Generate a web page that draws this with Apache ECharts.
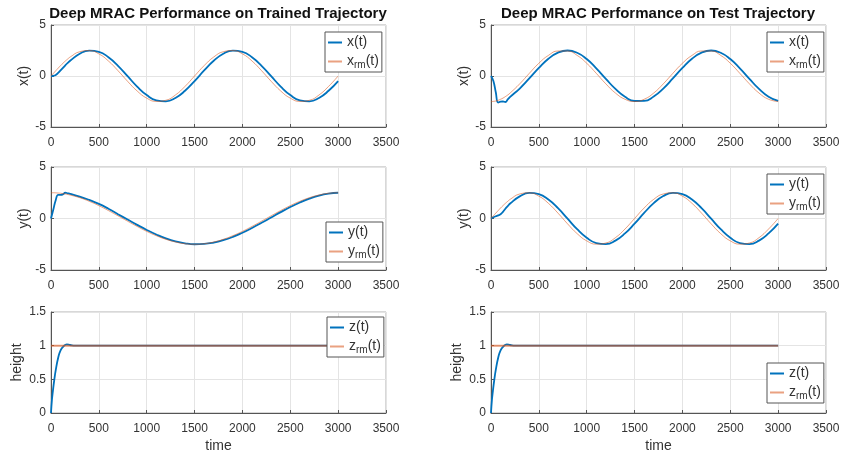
<!DOCTYPE html>
<html>
<head>
<meta charset="utf-8">
<script src="https://cdn.jsdelivr.net/npm/echarts@6/dist/echarts.min.js"></script>
<style>html,body{margin:0;padding:0;background:#fff}#c{width:844px;height:456px}</style>
</head>
<body>
<div id="c"></div>
<script>
// ---- data ----
const t = [0,25,50,75,100,125,150,175,200,300,400,500,600,700,800,900,1000,1100,1200,1300,1400,1500,1600,1700,1800,1900,2000,2100,2200,2300,2400,2500,2600,2700,2800,2900,3000];

const trainX   = [0,0.02,0.1,0.3,0.55,0.8,1.05,1.28,1.49,2.18,2.49,2.37,1.84,1.00,-0.02,-1.04,-1.87,-2.38,-2.48,-2.15,-1.45,-0.50,0.54,1.49,2.18,2.49,2.37,1.84,1.00,-0.02,-1.04,-1.87,-2.38,-2.48,-2.15,-1.45,-0.50];
const trainXrm = [0,0.26,0.52,0.77,1.02,1.25,1.47,1.67,1.86,2.38,2.49,2.17,1.47,0.52,-0.52,-1.47,-2.17,-2.49,-2.38,-1.86,-1.02,0,1.02,1.86,2.38,2.49,2.17,1.47,0.52,-0.52,-1.47,-2.17,-2.49,-2.38,-1.86,-1.02,0];
const trainY   = [0,0.9,1.8,2.3,2.3,2.35,2.5,2.45,2.4,2.13,1.8,1.42,0.95,0.42,-0.1,-0.62,-1.11,-1.55,-1.93,-2.22,-2.41,-2.5,-2.47,-2.34,-2.11,-1.79,-1.38,-0.92,-0.42,0.10,0.62,1.11,1.55,1.93,2.22,2.41,2.5];
const trainYrm = [2.5,2.5,2.49,2.47,2.45,2.41,2.38,2.33,2.28,2.02,1.67,1.25,0.77,0.26,-0.26,-0.77,-1.25,-1.67,-2.02,-2.28,-2.45,-2.5,-2.45,-2.28,-2.02,-1.67,-1.25,-0.77,-0.26,0.26,0.77,1.25,1.67,2.02,2.28,2.45,2.5];

const testX    = [0,-0.5,-1.6,-2.6,-2.52,-2.5,-2.55,-2.3,-2.05,-1.23,-0.24,0.79,1.69,2.29,2.5,2.28,1.66,0.75,-0.28,-1.27,-2.04,-2.45,-2.44,-2.01,-1.23,-0.24,0.79,1.69,2.29,2.5,2.28,1.66,0.75,-0.28,-1.27,-2.04,-2.45];
const testXrm  = [-2.5,-2.49,-2.45,-2.38,-2.28,-2.17,-2.02,-1.86,-1.67,-0.77,0.26,1.25,2.02,2.45,2.45,2.02,1.25,0.26,-0.77,-1.67,-2.28,-2.5,-2.28,-1.67,-0.77,0.26,1.25,2.02,2.45,2.45,2.02,1.25,0.26,-0.77,-1.67,-2.28,-2.5];
const testY    = [0,0.12,0.22,0.3,0.42,0.65,0.95,1.2,1.45,2.15,2.49,2.37,1.84,1.00,-0.02,-1.04,-1.87,-2.38,-2.48,-2.15,-1.45,-0.50,0.54,1.49,2.18,2.49,2.37,1.84,1.00,-0.02,-1.04,-1.87,-2.38,-2.48,-2.15,-1.45,-0.50];
const testYrm  = [0,0.26,0.52,0.77,1.02,1.25,1.47,1.67,1.86,2.38,2.49,2.17,1.47,0.52,-0.52,-1.47,-2.17,-2.49,-2.38,-1.86,-1.02,0,1.02,1.86,2.38,2.49,2.17,1.47,0.52,-0.52,-1.47,-2.17,-2.49,-2.38,-1.86,-1.02,0];

const tz       = [0,10,20,35,50,75,100,130,165,200,250,3000];
const trainZ   = [0,0.2,0.33,0.5,0.64,0.82,0.93,0.99,1.02,1.01,1.0,1.0];
const testZ    = [0,0.2,0.33,0.5,0.64,0.82,0.93,0.99,1.02,1.01,1.0,1.0];
const tzr      = [0,3000];
const trainZrm = [1,1];
const testZrm  = [1,1];

const titles = ['Deep MRAC Performance on Trained Trajectory','Deep MRAC Performance on Test Trajectory'];
const xTicks = [0,500,1000,1500,2000,2500,3000,3500];

// ---- build ----
const FONT = 'Liberation Sans, Arial, Helvetica, sans-serif';
const BLUE = '#0072BD', ORANGE = '#D95319';
const pairs = (xs, ys) => xs.map((x, i) => [x, ys[i]]);

const grids = [
  {left:51, top:25, width:335, height:102},
  {left:491, top:25, width:335, height:102},
  {left:51, top:167, width:335, height:103},
  {left:491, top:167, width:335, height:103},
  {left:51, top:312, width:335, height:101},
  {left:491, top:312, width:335, height:101}
].map(g => Object.assign({show:true, borderColor:'#b0b0b0', borderWidth:1, backgroundColor:'#fff'}, g));

const axisCommon = {
  axisLine:{show:true, onZero:false, lineStyle:{color:'#555', width:1}},
  axisTick:{show:true, inside:true, length:3, lineStyle:{color:'#555'}},
  splitLine:{show:true, lineStyle:{color:'#e4e4e4', width:1}},
  axisLabel:{fontSize:12, color:'#333', fontFamily:FONT, formatter: v => String(v)},
  nameTextStyle:{fontSize:14, color:'#333', fontFamily:FONT}
};

const xAxes = grids.map((g, i) => Object.assign({}, axisCommon, {
  type:'value', gridIndex:i, min:xTicks[0], max:xTicks[xTicks.length-1], interval:500,
  axisLabel:Object.assign({}, axisCommon.axisLabel, {margin:10}),
  name: i >= 4 ? 'time' : '', nameLocation:'middle', nameGap:26
}));
const yNames = ['x(t)','x(t)','y(t)','y(t)','height','height'];
const yAxes = grids.map((g, i) => Object.assign({}, axisCommon, {
  type:'value', gridIndex:i,
  min: i >= 4 ? 0 : -5, max: i >= 4 ? 1.5 : 5, interval: i >= 4 ? 0.5 : 5,
  axisLabel:Object.assign({}, axisCommon.axisLabel, {margin:5}),
  name:yNames[i], nameLocation:'middle', nameGap: i >= 4 ? 27 : 19
}));

function mk(name, xs, ys, gi, isRef, isZ) {
  return {
    type:'line', name, xAxisIndex:gi, yAxisIndex:gi, data:pairs(xs, ys),
    symbol:'none', showSymbol:false, smooth:0.5, silent:true,
    lineStyle: isRef ? {color:ORANGE, width: isZ ? 2 : 1, opacity: isZ ? 0.6 : 0.55} : {color:BLUE, width:1.8},
    itemStyle:{color: isRef ? ORANGE : BLUE, opacity: isRef ? 0.55 : 1}
  };
}
const series = [
  mk('x(t)', t, trainX, 0, false), mk('x_rm(t)', t, trainXrm, 0, true),
  mk('x(t)', t, testX, 1, false),  mk('x_rm(t)', t, testXrm, 1, true),
  mk('y(t)', t, trainY, 2, false), mk('y_rm(t)', t, trainYrm, 2, true),
  mk('y(t)', t, testY, 3, false),  mk('y_rm(t)', t, testYrm, 3, true),
  mk('z(t)', tz, trainZ, 4, false), mk('z_rm(t)', tzr, trainZrm, 4, true, true),
  mk('z(t)', tz, testZ, 5, false),  mk('z_rm(t)', tzr, testZrm, 5, true, true)
];

const legPos = [
  {left:325, top:32, v:'x'}, {left:767, top:32, v:'x'},
  {left:326, top:222, v:'y'}, {left:767, top:174, v:'y'},
  {left:327, top:317, v:'z'}, {left:767, top:363, v:'z'}
];
const legends = legPos.map(p => ({
  left:p.left, top:p.top, orient:'vertical',
  data:[
    {name:p.v + '(t)', icon:'rect', itemStyle:{color:BLUE, opacity:1}},
    {name:p.v + '_rm(t)', icon:'rect', itemStyle:{color:ORANGE, opacity:0.55}}
  ],
  backgroundColor:'#fff', borderColor:'#555', borderWidth:1, borderRadius:0,
  padding:[2,3,2,3], itemGap:2, itemWidth:14, itemHeight:2, selectedMode:false,
  formatter: n => { const m = n.match(/^(\w)_rm\(t\)$/); return m ? '{b|' + m[1] + '}{s|rm}{b|(t)}' : '{b|' + n + '}'; },
  textStyle:{fontFamily:FONT, color:'#333', fontSize:14, lineHeight:17, rich:{
    b:{fontSize:14, lineHeight:17, color:'#333', fontFamily:FONT},
    s:{fontSize:10, lineHeight:10, verticalAlign:'bottom', color:'#333', fontFamily:FONT}
  }}
}));

const chart = echarts.init(document.getElementById('c'), null, {renderer:'canvas'});
chart.setOption({
  animation:false,
  backgroundColor:'#fff',
  title:[
    {text:titles[0], left:218, top:6, textAlign:'center', padding:0, textStyle:{fontSize:15, fontWeight:'bold', color:'#111', fontFamily:FONT}},
    {text:titles[1], left:658, top:6, textAlign:'center', padding:0, textStyle:{fontSize:15, fontWeight:'bold', color:'#111', fontFamily:FONT}}
  ],
  grid:grids, xAxis:xAxes, yAxis:yAxes, legend:legends, series
});
</script>
</body>
</html>
